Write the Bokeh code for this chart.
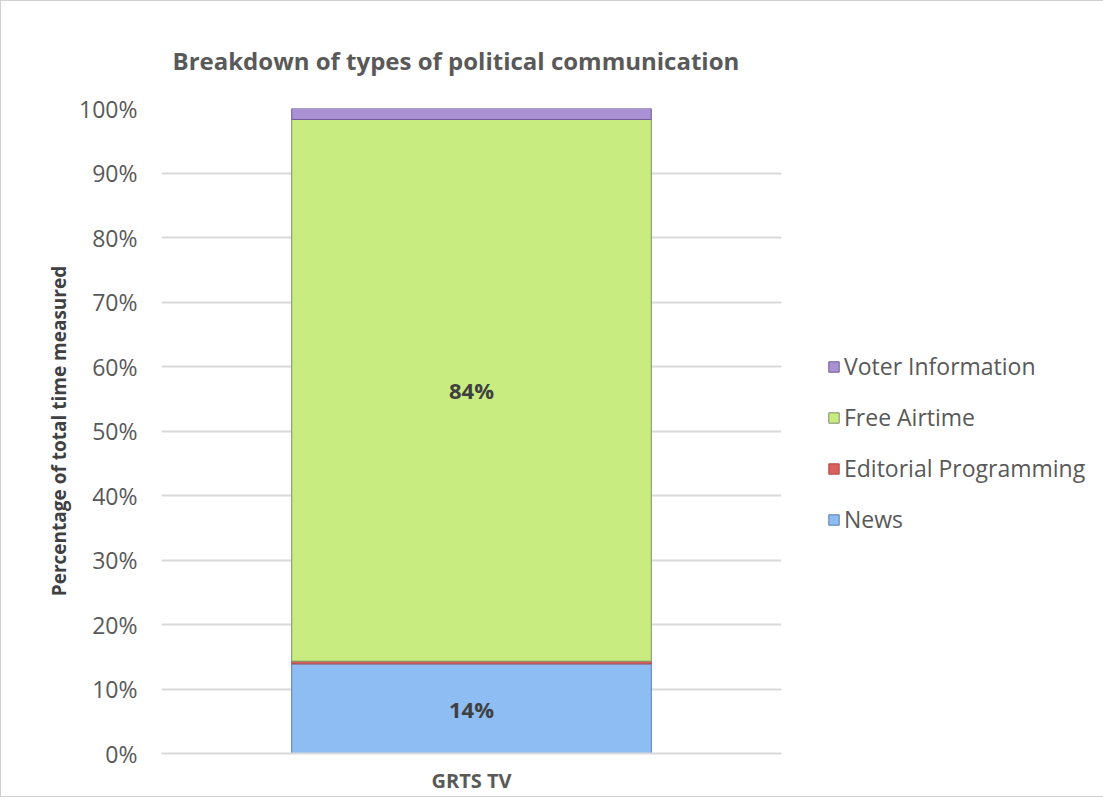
from bokeh.plotting import figure
from bokeh.models import (ColumnDataSource, Legend, LegendItem, LabelSet,
                          PrintfTickFormatter, FixedTicker, Range1d, Title)
from bokeh.core.properties import value
from bokeh.embed import file_html
from bokeh.resources import INLINE

# ---- data ----
channels = ["GRTS TV"]
series = ["News", "Editorial Programming", "Free Airtime", "Voter Information"]
news = [13.9]
editorial = [0.4]
free_airtime = [84.0]
voter_info = [1.7]
colors = ["#8DBDF3", "#D9625E", "#C8EC80", "#A991D4"]
edge_colors = ["#5A7DB0", "#B24745", "#7E8F6A", "#6F5A99"]
y_ticks = [0, 10, 20, 30, 40, 50, 60, 70, 80, 90, 100]

FONT = "Open Sans"
GREY = "#595959"

data = {"ch": channels, "News": news, "Editorial Programming": editorial,
        "Free Airtime": free_airtime, "Voter Information": voter_info}
src = ColumnDataSource(data)

p = figure(x_range=channels, y_range=Range1d(0, 100),
           frame_width=620, frame_height=645,
           output_backend="svg", toolbar_location=None,
           min_border_left=160, min_border_right=315, min_border_top=107,
           min_border_bottom=43)
p.styles = {"border": "1px solid #D0D0D0", "box-sizing": "border-box"}

renderers = p.vbar_stack(series, x="ch", width=0.58, source=src,
                         fill_color=colors, line_color=edge_colors, line_width=1)

# title
p.title = Title(text="Breakdown of types of political communication",
                align="left", offset=11, text_font=FONT,
                text_font_size="24px", text_font_style="bold",
                text_color=GREY, standoff=63)

# axes
p.yaxis.ticker = FixedTicker(ticks=y_ticks)
p.yaxis.formatter = PrintfTickFormatter(format="%d%%")
p.yaxis.major_label_text_font = FONT
p.yaxis.major_label_text_font_size = "23px"
p.yaxis.major_label_text_color = GREY
p.yaxis.axis_line_color = None
p.yaxis.major_tick_line_color = None
p.yaxis.minor_tick_line_color = None
p.yaxis.major_label_standoff = 18
p.yaxis.axis_label = "Percentage of total time measured"
p.yaxis.axis_label_text_font = FONT
p.yaxis.axis_label_text_font_size = "19px"
p.yaxis.axis_label_text_font_style = "bold"
p.yaxis.axis_label_text_color = "#404040"
p.yaxis.axis_label_standoff = 4

p.xaxis.axis_line_color = "#D9D9D9"
p.xaxis.axis_line_width = 2
p.xaxis.major_tick_line_color = None
p.xaxis.minor_tick_line_color = None
p.xaxis.major_label_text_font = FONT
p.xaxis.major_label_text_font_size = "20px"
p.xaxis.major_label_text_font_style = "bold"
p.xaxis.major_label_text_color = GREY
p.xaxis.major_label_standoff = 7

p.xgrid.grid_line_color = None
p.ygrid.grid_line_color = "#D9D9D9"
p.ygrid.grid_line_width = 2
p.outline_line_color = None
p.background_fill_color = "white"
p.border_fill_color = "white"

# data labels for the large segments
vals = [news[0], editorial[0], free_airtime[0], voter_info[0]]
lab_x, lab_y, lab_t = [], [], []
cum = 0.0
for v in vals:
    if v >= 5:
        lab_x.append(channels[0])
        lab_y.append(cum + v / 2)
        lab_t.append(f"{round(v)}%")
    cum += v
lsrc = ColumnDataSource(dict(x=lab_x, y=lab_y, t=lab_t))
p.add_layout(LabelSet(x="x", y="y", text="t", source=lsrc,
                      text_align="center", text_baseline="middle",
                      text_font=value(FONT), text_font_size="22px",
                      text_font_style="bold", text_color="#404040"))

# legend (top to bottom: reverse stack order)
items = [LegendItem(label=s, renderers=[r]) for s, r in zip(series, renderers)][::-1]
legend = Legend(items=items, location=(46, 218), orientation="vertical",
                label_text_font=FONT, label_text_font_size="23px",
                label_text_color=GREY, glyph_width=13, glyph_height=13,
                label_height=20, spacing=19, padding=0, margin=0,
                label_standoff=4, border_line_color=None,
                background_fill_alpha=0)
p.add_layout(legend, "right")

open("out.html", "w").write(file_html(p, INLINE))
